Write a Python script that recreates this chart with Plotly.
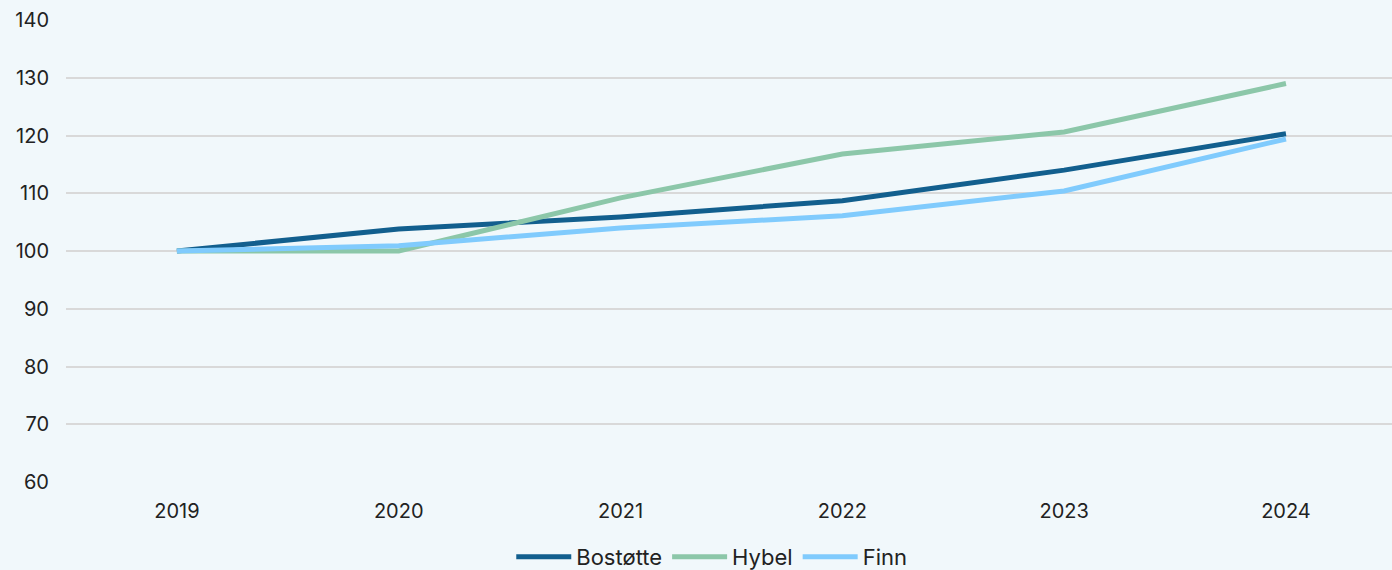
import plotly.graph_objects as go

years = ["2019", "2020", "2021", "2022", "2023", "2024"]
bostotte = [100, 103.8, 105.9, 108.7, 114.0, 120.3]
hybel = [100, 100, 109.2, 116.8, 120.6, 129.0]
finn = [100, 100.9, 104.0, 106.1, 110.4, 119.4]

series = [
    ("Bostøtte", bostotte, "#125F8E"),
    ("Hybel", hybel, "#8CC7A9"),
    ("Finn", finn, "#80CBFD"),
]

fig = go.Figure()
for name, vals, col in series:
    fig.add_trace(go.Scatter(x=years, y=vals, name=name, mode="lines",
                             line=dict(color=col, width=5)))

bg = "#F1F8FB"
fig.update_layout(
    width=1392, height=570,
    paper_bgcolor=bg, plot_bgcolor=bg,
    margin=dict(l=66, r=0, t=20, b=88, autoexpand=False),
    font=dict(family="Inter, Open Sans, sans-serif", size=20, color="#222222"),
    showlegend=True,
    legend=dict(orientation="h", x=0.487, xanchor="center", y=-0.162, yanchor="middle",
                font=dict(size=22), itemwidth=55, bgcolor="rgba(0,0,0,0)"),
    xaxis=dict(type="category", range=[-0.5, 5.478], showgrid=False, zeroline=False,
               showline=False, ticks="", ticklabelstandoff=15),
    yaxis=dict(range=[60, 140], dtick=10, showgrid=True, gridcolor="#D9D9D9",
               gridwidth=2, zeroline=False, showline=False, ticks="",
               ticklabelstandoff=16),
)

fig.write_html("out.html")
